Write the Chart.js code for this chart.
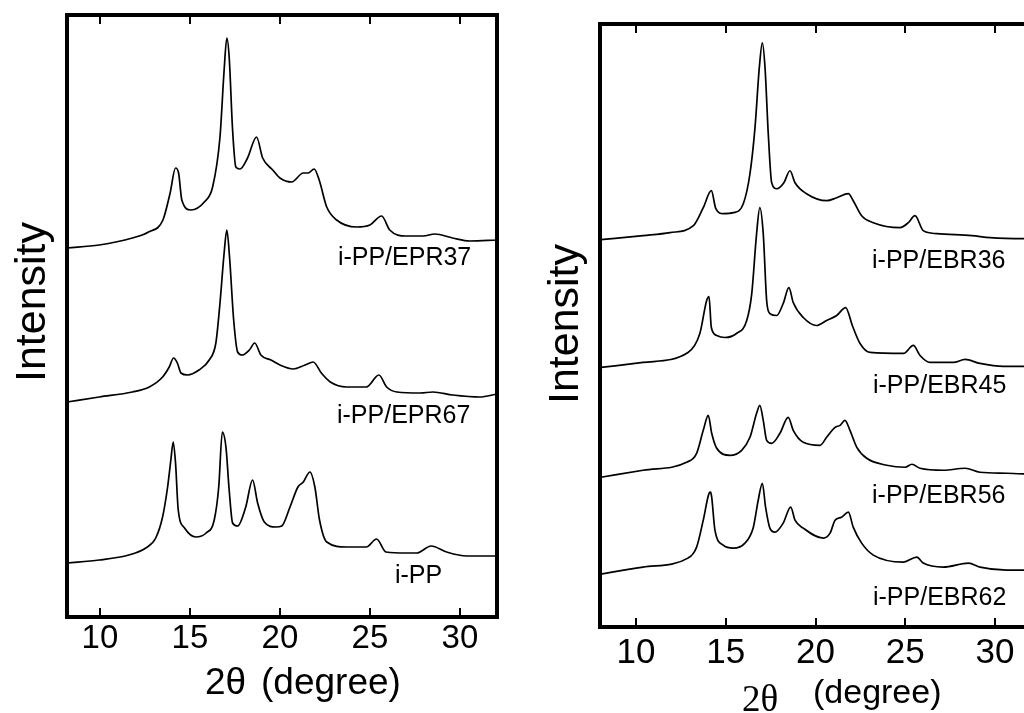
<!DOCTYPE html>
<html><head><meta charset="utf-8">
<script src="https://cdn.jsdelivr.net/npm/chart.js@4.4.1/dist/chart.umd.min.js"></script>
<style>
html,body{margin:0;padding:0;background:#fff;overflow:hidden;width:1024px;height:713px;position:relative;}
#c1{position:absolute;left:0;top:0;}
#c2{position:absolute;left:512px;top:0;}
</style></head><body>
<canvas id="c1" width="512" height="713"></canvas>
<canvas id="c2" width="530" height="713"></canvas>
<script>
// ---------- shared ----------
const xTicks = [10, 15, 20, 25, 30];
const xTitleLeft = ['2θ', '(degree)'];
const yTitle = 'Intensity';

// ---------- left panel (i-PP / EPR) ----------
const leftNames = ['i-PP/EPR37', 'i-PP/EPR67', 'i-PP'];
const epr37X = [8.17,9.96,11.8,12.7,13.5,13.9,14.2,14.37,14.55,15.05,15.8,16.26,16.67,16.9,17.05,17.18,17.37,17.55,17.78,18.2,18.7,19.04,19.6,20.0,20.65,21.3,21.57,21.9,22.18,22.6,23.15,24.26,25.0,25.65,26.1,27.0,27.96,28.6,29.6,30.55,32.06];
const epr37Y = [369,372,379,385,397,424,449,444,417,407,415,430,480,547,579,560,487,450,448,459,480,459,447,439,435,444,444,448,437,410,397,390,392,401,387,381,381,383,379,376,377];
const epr67X = [8.17,9.96,11.8,12.74,13.48,13.85,14.09,14.3,14.5,14.87,15.5,16.07,16.44,16.67,16.9,17.05,17.2,17.43,17.65,17.9,18.3,18.6,18.94,19.5,20.0,20.74,21.4,21.85,22.3,22.8,23.7,24.8,25.5,25.93,26.5,27.8,28.5,29.6,31.1,32.06];
const epr67Y = [215,220,225,230,240,250,259,254,244,242,247,257,274,314,364,387,360,297,265,262,267,274,262,257,252,248,252,255,244,235,230,230,242,230,225,224,225,222,220,223];
const ippX = [8.17,9.96,11.6,12.55,13.1,13.48,13.76,13.94,14.07,14.2,14.35,14.7,15.33,15.9,16.35,16.6,16.8,17.0,17.18,17.37,17.65,18.1,18.48,18.76,19.13,19.78,20.1,20.56,21.0,21.3,21.67,21.94,22.2,22.6,23.7,24.26,24.8,25.37,25.9,27.0,27.6,28.4,29.26,30.37,32.06];
const ippY = [54,57,62,69,79,100,130,157,175,154,107,89,80,84,97,130,185,170,127,94,91,110,137,114,95,90,91,110,130,135,145,130,97,75,70,70,70,78,65,64,64,71,65,61,61];
const leftLabelX = [23.22, 23.17, 26.39];
const leftLabelY = [352, 194, 34];

// ---------- right panel (i-PP / EBR) ----------
const rightNames = ['i-PP/EBR36', 'i-PP/EBR45', 'i-PP/EBR56', 'i-PP/EBR62'];
const ebr36X = [8.05,10.4,11.9,13.2,13.75,14.2,14.45,14.86,15.42,15.98,16.35,16.63,16.87,17.04,17.19,17.37,17.56,17.84,18.24,18.58,18.86,19.5,20.63,21.18,21.83,22.1,22.57,23.22,24.7,25.17,25.54,26.0,26.75,28.7,29.72,31.58,32];
const ebr36Y = [388,392,395,402,420,437,419,414,415,424,454,500,560,585,560,494,445,439,445,457,445,434,427,430,434,427,412,405,400,405,412,397,394,392,390,389,389];
const ebr45X = [8.05,10.4,12.9,13.56,13.94,14.07,14.2,14.5,14.96,15.6,16.17,16.45,16.72,16.9,17.09,17.28,17.46,17.84,18.2,18.52,18.76,19.32,20.06,20.62,21.18,21.68,22.05,22.48,23.04,24.9,25.45,25.82,26.38,27.68,28.33,29.16,30.46,32];
const ebr45Y = [260,265,275,294,327,331,300,292,290,294,307,334,394,420,394,327,314,312,324,340,325,310,302,307,312,320,302,284,275,274,282,272,265,265,268,264,261,261];
const ebr56X = [8.05,10.4,12.82,13.38,13.75,14.03,14.22,14.5,15.24,15.89,16.35,16.72,16.9,17.09,17.28,17.56,18.02,18.48,18.76,19.32,20.25,20.62,21.09,21.37,21.64,21.92,22.3,22.85,23.97,24.99,25.37,25.82,27.12,28.33,29.16,30.65,32];
const ebr56Y = [150,157,165,174,197,212,194,179,172,177,190,214,222,207,187,184,194,210,197,185,182,190,200,202,207,197,180,169,162,160,163,159,157,159,155,154,153];
const ebr62X = [8.05,10.4,12.9,13.38,13.75,14.08,14.16,14.22,14.4,14.86,15.42,16.07,16.54,16.81,17.04,17.22,17.46,17.74,18.2,18.62,18.86,19.32,20.43,20.81,21.09,21.45,21.83,22.1,22.57,23.22,24.9,25.64,26.0,27.12,28.52,29.16,30.65,32];
const ebr62Y = [53,60,69,80,107,134,135,130,97,82,79,84,100,127,144,120,99,95,104,120,107,99,89,94,107,110,115,100,84,72,65,70,64,60,64,60,57,57];
const rightLabelX = [23.15, 23.2, 23.15, 23.2];
const rightLabelY = [360, 234, 124, 22];

const SANS = '"Liberation Sans", Arial, Helvetica, sans-serif';
const SERIF = '"Liberation Serif", "Times New Roman", serif';

function toPoints(xs, ys) { return xs.map((x, i) => ({x: x, y: ys[i]})); }

function framePlugin(cfg) {
  return {
    id: 'frame_' + cfg.id,
    afterDraw(chart) {
      const ctx = chart.ctx, a = chart.chartArea;
      const xs = chart.scales.x, ys = chart.scales.y;
      ctx.save();
      ctx.strokeStyle = '#000';
      ctx.lineWidth = 4;
      ctx.strokeRect(a.left, a.top, a.right - a.left, a.bottom - a.top);
      ctx.lineWidth = 2;
      ctx.beginPath();
      xTicks.forEach(v => {
        const px = Math.round(xs.getPixelForValue(v));
        ctx.moveTo(px, a.bottom); ctx.lineTo(px, a.bottom - 9);
        ctx.moveTo(px, a.top); ctx.lineTo(px, a.top + 9);
      });
      ctx.stroke();
      ctx.fillStyle = '#000';
      // curve labels
      ctx.font = '25px ' + SANS;
      ctx.textAlign = 'left';
      ctx.textBaseline = 'alphabetic';
      cfg.names.forEach((n, i) => {
        ctx.fillText(n, xs.getPixelForValue(cfg.labelX[i]), ys.getPixelForValue(cfg.labelY[i]));
      });
      // y title
      ctx.save();
      ctx.translate(cfg.yTitlePos[0], cfg.yTitlePos[1]);
      ctx.rotate(-Math.PI / 2);
      ctx.font = '43px ' + SANS;
      ctx.textAlign = 'center';
      ctx.textBaseline = 'middle';
      ctx.fillText(yTitle, 0, 0);
      ctx.restore();
      // x title
      ctx.textAlign = 'left';
      ctx.textBaseline = 'alphabetic';
      ctx.font = cfg.thetaFont;
      ctx.fillText(xTitleLeft[0], cfg.thetaPos[0], cfg.thetaPos[1]);
      ctx.font = cfg.degFont;
      ctx.fillText(xTitleLeft[1], cfg.degPos[0], cfg.degPos[1]);
      ctx.restore();
    }
  };
}

function makeChart(cfg) {
  return new Chart(document.getElementById(cfg.id), {
    type: 'line',
    data: {
      datasets: cfg.series.map(s => ({
        data: toPoints(s[0], s[1]),
        borderColor: '#000',
        borderWidth: 1.7,
        pointRadius: 0,
        fill: false,
        cubicInterpolationMode: 'monotone'
      }))
    },
    options: {
      responsive: false,
      animation: false,
      devicePixelRatio: 1,
      layout: {padding: {left: cfg.padL, right: cfg.padR, top: cfg.padT, bottom: 0}},
      plugins: {legend: {display: false}, tooltip: {enabled: false}, title: {display: false}},
      scales: {
        x: {
          type: 'linear', min: cfg.xMin, max: cfg.xMax,
          afterBuildTicks: s => { s.ticks = xTicks.map(v => ({value: v})); },
          afterFit: s => { s.height = cfg.xH; },
          grid: {display: false, drawTicks: false},
          border: {display: false},
          ticks: {color: '#000', font: {family: SANS, size: cfg.tickSize}, padding: cfg.tickPad, maxRotation: 0, autoSkip: false}
        },
        y: {display: false, min: 0, max: cfg.yMax}
      }
    },
    plugins: [framePlugin(cfg)]
  });
}

makeChart({
  id: 'c1',
  series: [[epr37X, epr37Y], [epr67X, epr67Y], [ippX, ippY]],
  names: leftNames, labelX: leftLabelX, labelY: leftLabelY,
  xMin: 8.17, xMax: 32.06, yMax: 602,
  padL: 67, padR: 15, padT: 15, xH: 96,
  tickSize: 33, tickPad: 2,
  yTitlePos: [33, 302],
  thetaFont: '37px ' + SANS, thetaPos: [205, 694],
  degFont: '37px ' + SANS, degPos: [261, 694]
});

makeChart({
  id: 'c2',
  series: [[ebr36X, ebr36Y], [ebr45X, ebr45Y], [ebr56X, ebr56Y], [ebr62X, ebr62Y]],
  names: rightNames, labelX: rightLabelX, labelY: rightLabelY,
  xMin: 8.0, xMax: 32.0, yMax: 604,
  padL: 88, padR: 11, padT: 24, xH: 86,
  tickSize: 35, tickPad: 5,
  yTitlePos: [54, 324],
  thetaFont: '37px ' + SERIF, thetaPos: [230, 711],
  degFont: '34px ' + SANS, degPos: [301, 703]
});
</script>
</body></html>
